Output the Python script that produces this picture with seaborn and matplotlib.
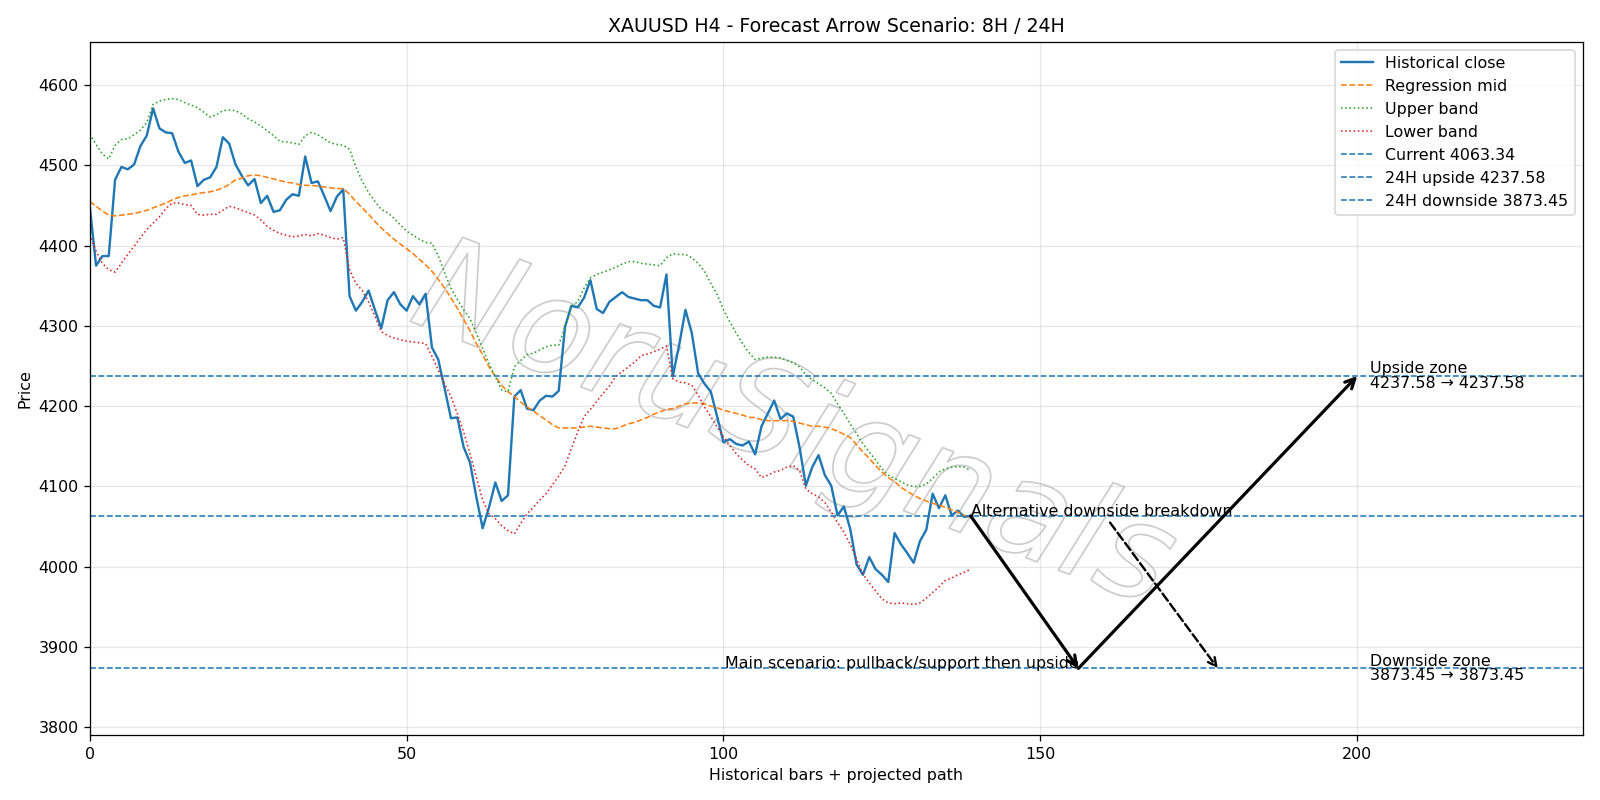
import numpy as np
import pandas as pd
import matplotlib
matplotlib.use("Agg")
import matplotlib.pyplot as plt
import matplotlib.patheffects as pe
import seaborn as sns

# values
close = [
    4449, 4375, 4387, 4387, 4482, 4498, 4495, 4501, 4524, 4537,
    4571, 4546, 4541, 4540, 4517, 4503, 4506, 4474, 4482, 4485,
    4498, 4535, 4527, 4501, 4487, 4475, 4483, 4453, 4462, 4442,
    4444, 4457, 4464, 4462, 4511, 4478, 4480, 4462, 4443, 4461,
    4470, 4337, 4319, 4330, 4344, 4320, 4297, 4332, 4342, 4327,
    4319, 4337, 4327, 4340, 4273, 4258, 4222, 4185, 4186, 4149,
    4130, 4087, 4048, 4074, 4105, 4082, 4089, 4212, 4220, 4197,
    4195, 4207, 4213, 4212, 4219, 4299, 4325, 4323, 4335, 4357,
    4321, 4316, 4330, 4336, 4342, 4336, 4334, 4332, 4332, 4325,
    4323, 4364, 4237, 4276, 4320, 4291, 4241, 4228, 4218, 4187,
    4155, 4159, 4153, 4151, 4156, 4140, 4175, 4191, 4207, 4184,
    4191, 4187, 4149, 4101, 4124, 4139, 4114, 4101, 4064, 4075,
    4047, 4003, 3990, 4012, 3997, 3990, 3981, 4042, 4028, 4017,
    4005, 4032, 4046, 4091, 4073, 4089, 4064, 4070, 4062, 4063.34,
]
reg_mid = [
    4455, 4449, 4443, 4438, 4437, 4438, 4439, 4440, 4442, 4444,
    4447, 4450, 4453, 4457, 4460, 4462, 4463, 4465, 4466, 4467,
    4469, 4472, 4476, 4482, 4484, 4487, 4488, 4487, 4485, 4483,
    4481, 4479, 4478, 4476, 4475, 4475, 4474, 4473, 4472, 4471,
    4471, 4464, 4455, 4447, 4439, 4430, 4422, 4415, 4408, 4402,
    4396, 4390, 4383, 4376, 4368, 4358, 4347, 4335, 4322, 4308,
    4294, 4278, 4264, 4249, 4237, 4226, 4218, 4212, 4205, 4199,
    4194, 4188, 4183, 4177, 4173, 4173, 4173, 4173, 4174, 4175,
    4174, 4173, 4172, 4172, 4175, 4178, 4180, 4183, 4186, 4190,
    4193, 4196, 4197, 4200, 4203, 4204, 4204, 4203, 4200, 4198,
    4195, 4193, 4191, 4189, 4186, 4186, 4183, 4182, 4182, 4182,
    4182, 4181, 4179, 4177, 4175, 4175, 4174, 4172, 4169, 4165,
    4161, 4152, 4143, 4135, 4126, 4118, 4111, 4106, 4099, 4094,
    4089, 4085, 4082, 4079, 4077, 4074, 4071, 4068, 4064, 4060,
]
upper_band = [
    4539, 4526, 4514, 4508, 4525, 4532, 4533, 4538, 4544, 4553,
    4576, 4580, 4582, 4583, 4582, 4578, 4575, 4572, 4566, 4560,
    4563, 4568, 4569, 4568, 4564, 4558, 4554, 4549, 4543, 4537,
    4530, 4529, 4528, 4526, 4537, 4541, 4538, 4533, 4528, 4526,
    4525, 4520, 4498, 4480, 4466, 4455, 4445, 4441, 4434, 4426,
    4418, 4413, 4408, 4404, 4403, 4387, 4366, 4347, 4333, 4320,
    4309, 4291, 4272, 4253, 4237, 4220, 4218, 4249, 4257, 4264,
    4266, 4270, 4274, 4276, 4276, 4299, 4325, 4330, 4347, 4360,
    4364, 4367, 4370, 4373, 4377, 4380, 4380, 4378, 4377, 4376,
    4375, 4385, 4390, 4389, 4389, 4385, 4378, 4368, 4353, 4339,
    4320, 4305, 4291, 4278, 4267, 4258, 4260, 4261, 4261, 4260,
    4257, 4254, 4249, 4239, 4233, 4228, 4223, 4216, 4203, 4191,
    4178, 4166, 4153, 4143, 4133, 4122, 4114, 4110, 4106, 4102,
    4100, 4100, 4103, 4110, 4118, 4122, 4124, 4125, 4124, 4120,
]
lower_band = [
    4414, 4393, 4378, 4370, 4367, 4378, 4389, 4399, 4410, 4420,
    4428, 4436, 4446, 4453, 4453, 4451, 4450, 4439, 4438, 4439,
    4439, 4444, 4449, 4447, 4444, 4441, 4438, 4432, 4424, 4419,
    4415, 4413, 4411, 4412, 4414, 4412, 4415, 4413, 4410, 4408,
    4410, 4370, 4353, 4344, 4330, 4312, 4293, 4288, 4285, 4283,
    4281, 4280, 4279, 4278, 4262, 4245, 4228, 4212, 4191, 4168,
    4141, 4112, 4083, 4066, 4060, 4051, 4045, 4041, 4054, 4066,
    4074, 4083, 4091, 4102, 4113, 4126, 4147, 4168, 4187, 4196,
    4206, 4216, 4225, 4237, 4243, 4249, 4255, 4263, 4265, 4268,
    4271, 4275, 4234, 4230, 4229, 4226, 4214, 4199, 4187, 4174,
    4162, 4151, 4141, 4133, 4126, 4122, 4111, 4114, 4118, 4120,
    4124, 4126, 4120, 4097, 4091, 4087, 4080, 4068, 4055, 4043,
    4028, 4010, 3991, 3980, 3970, 3960, 3955, 3954, 3955, 3954,
    3953, 3955, 3961, 3968, 3975, 3983, 3986, 3990, 3993, 3997,
]

current = 4063.34
up_24h = 4237.58
down_24h = 3873.45

# projected path (bar index, price)
main_path_x = [139, 156, 200]
main_path_y = [current, down_24h, up_24h]
alt_path_x = [161, 178]
alt_path_y = [4055, down_24h]

bars = np.arange(len(close))
df = pd.DataFrame({
    "bar": bars,
    "close": close,
    "mid": reg_mid,
    "upper": upper_band,
    "lower": lower_band,
})

fig, ax = plt.subplots(figsize=(14, 7), dpi=1600 / 14)

# faint outlined watermark behind everything
ax.text(111, 4172, "NoruSignals", fontsize=84, style="italic",
        color=(1, 1, 1, 0), rotation=-21, ha="center", va="center", zorder=0,
        path_effects=[pe.withStroke(linewidth=1.1, foreground="#cdcdcd")])

sns.lineplot(data=df, x="bar", y="close", ax=ax, color="#1f77b4", linewidth=1.5,
             label="Historical close")
sns.lineplot(data=df, x="bar", y="mid", ax=ax, color="#ff7f0e", linewidth=1.0,
             linestyle="--", label="Regression mid")
sns.lineplot(data=df, x="bar", y="upper", ax=ax, color="#2ca02c", linewidth=1.0,
             linestyle=":", label="Upper band")
sns.lineplot(data=df, x="bar", y="lower", ax=ax, color="#d62728", linewidth=1.0,
             linestyle=":", label="Lower band")

ax.axhline(current, color="#1f77b4", linestyle="--", linewidth=1.0,
           label=f"Current {current:.2f}")
ax.axhline(up_24h, color="#1f77b4", linestyle="--", linewidth=1.0,
           label=f"24H upside {up_24h:.2f}")
ax.axhline(down_24h, color="#1f77b4", linestyle="--", linewidth=1.0,
           label=f"24H downside {down_24h:.2f}")

# main scenario arrows
for i in range(len(main_path_x) - 1):
    ax.annotate("", xy=(main_path_x[i + 1], main_path_y[i + 1]),
                xytext=(main_path_x[i], main_path_y[i]),
                arrowprops=dict(arrowstyle="->", color="black", lw=2.0,
                                mutation_scale=15, shrinkA=0, shrinkB=0))
# alternative scenario arrow
ax.annotate("", xy=(alt_path_x[1], alt_path_y[1]), xytext=(alt_path_x[0], alt_path_y[0]),
            arrowprops=dict(arrowstyle="->", color="black", lw=1.5, linestyle="--",
                            mutation_scale=13, shrinkA=0, shrinkB=0))

ax.text(main_path_x[0], current, "Alternative downside breakdown")
ax.text(main_path_x[1], down_24h, "Main scenario: pullback/support then upside", ha="right")
ax.text(202, up_24h, f"Upside zone\n{up_24h:.2f} \u2192 {up_24h:.2f}",
        va="center", linespacing=0.95)
ax.text(202, down_24h, f"Downside zone\n{down_24h:.2f} \u2192 {down_24h:.2f}",
        va="center", linespacing=0.95)

ax.set_xlim(0, 235.6)
ax.set_ylim(3790, 4654)
ax.grid(True, alpha=0.3)
ax.set_title("XAUUSD H4 - Forecast Arrow Scenario: 8H / 24H")
ax.set_xlabel("Historical bars + projected path")
ax.set_ylabel("Price")
ax.legend(loc="upper right")

plt.tight_layout()
plt.savefig("out.png")
